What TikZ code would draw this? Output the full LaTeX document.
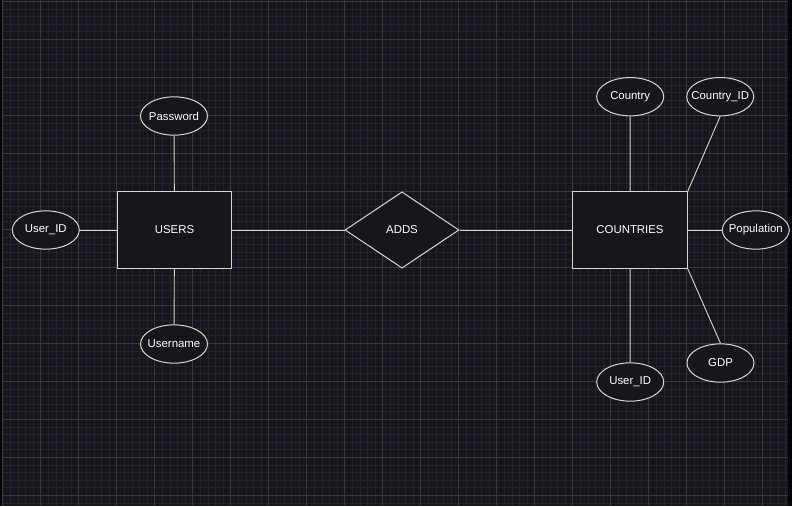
\documentclass[tikz,border=0pt]{standalone}
\usepackage{fontspec}
\setmainfont{Liberation Sans}
\usetikzlibrary{shapes.geometric}
\definecolor{bg}{HTML}{18161D}
\definecolor{minorgrid}{HTML}{24222A}
\definecolor{majorgrid}{HTML}{3A383F}
\definecolor{edge}{HTML}{D6D6D6}
\newcommand{\fixw}[1]{\makebox[0pt][c]{#1}}
\tikzset{
  base/.style={draw=edge, line width=1pt, fill=bg, text=white, font=\fontsize{11.4}{13}\selectfont, inner sep=0pt},
  entity/.style={base, rectangle, minimum width=114.4pt, minimum height=76.3pt},
  attr/.style={base, ellipse, minimum width=67pt, minimum height=38.3pt},
  rel/.style={base, diamond, minimum width=114pt, minimum height=76.3pt},
  conn/.style={draw=edge, line width=0.9pt},
}
\begin{document}
\begin{tikzpicture}[x=1pt,y=-1pt]
\useasboundingbox (0,0) rectangle (792,506);
\fill[bg] (0,0) rectangle (792,506);
% minor grid
\foreach \i in {-6,...,100} {
  \draw[minorgrid, line width=0.6pt] ({40.7+7.6*\i},0) -- ({40.7+7.6*\i},506);
}
\foreach \i in {-6,...,65} {
  \draw[minorgrid, line width=0.6pt] (0,{39.3+7.6*\i}) -- (792,{39.3+7.6*\i});
}
% major grid
\foreach \i in {-1,...,20} {
  \draw[majorgrid, line width=0.8pt] ({40.7+38*\i},0) -- ({40.7+38*\i},506);
}
\foreach \i in {-1,...,13} {
  \draw[majorgrid, line width=0.8pt] (0,{39.3+38*\i}) -- (792,{39.3+38*\i});
}
% borders
\fill[black!90!bg] (0,0) rectangle (2.2,506);
\fill[black!90!bg] (788,0) rectangle (792,506);

% nodes
\node[entity] (users) at (174.5,230) {USERS};
\node[entity] (countries) at (630,230) {COUNTRIES};
\node[rel] (adds) at (402,230) {ADDS};
\node[attr] (password) at (174,116) {\fixw{Password}};
\node[attr] (userid) at (45.8,230) {\fixw{User\_ID}};
\node[attr] (username) at (174,344) {\fixw{Username}};
\node[attr] (country) at (630.2,96.7) {\fixw{Country}};
\node[attr] (countryid) at (720.2,96.7) {\fixw{Country\_ID}};
\node[attr] (population) at (755.8,230) {\fixw{Population}};
\node[attr] (cuserid) at (630.2,382) {\fixw{User\_ID}};
\node[attr] (gdp) at (720.5,363) {\fixw{GDP}};

% connectors
\draw[conn] (password) -- (users);
\draw[conn] (userid) -- (users);
\draw[conn] (username) -- (users);
\draw[conn] (users) -- (adds);
\draw[conn] (adds) -- (countries);
\draw[conn] (country) -- (countries);
\draw[conn] (countryid.south) -- (countries.north east);
\draw[conn] (population) -- (countries);
\draw[conn] (cuserid) -- (countries);
\draw[conn] (countries.south east) -- (gdp.north);
\end{tikzpicture}
\end{document}
